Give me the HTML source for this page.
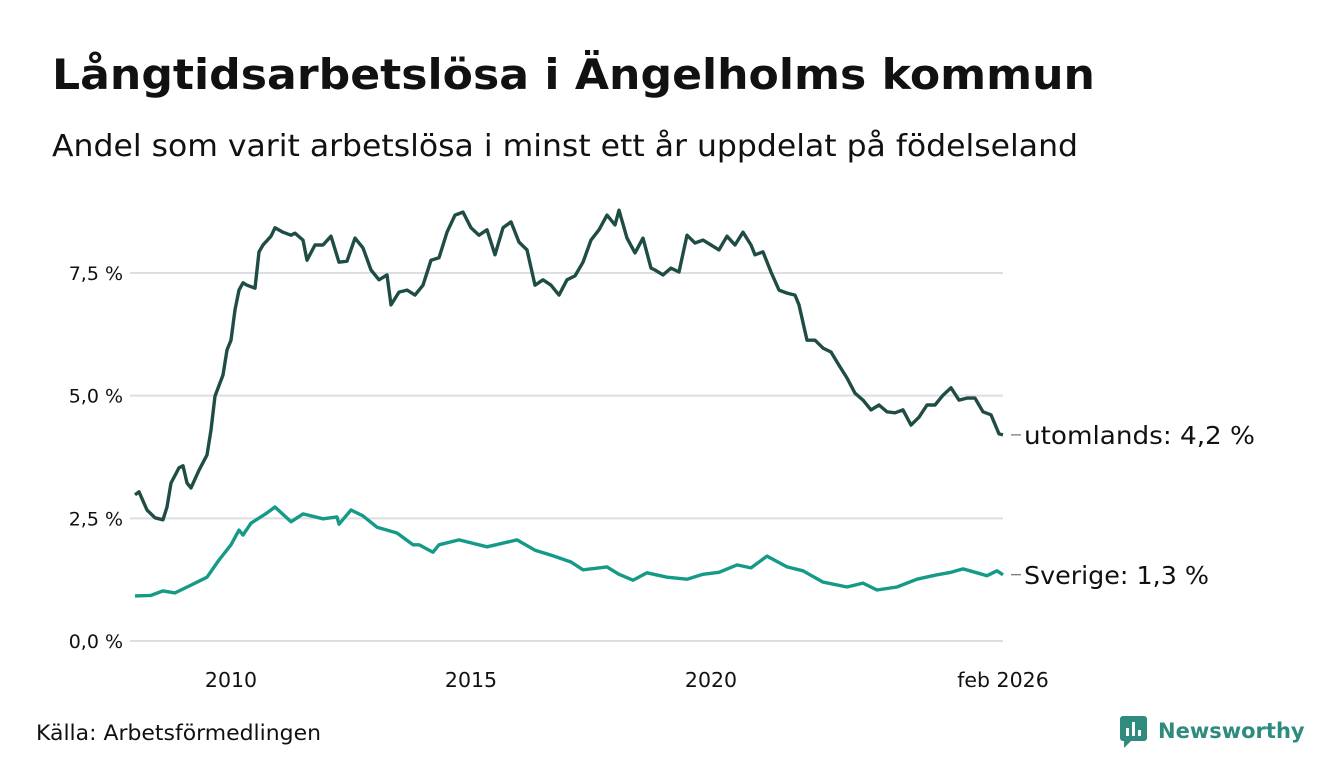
<!DOCTYPE html>
<html><head><meta charset="utf-8"><style>
body{margin:0;background:#fff;font-family:"DejaVu Sans","Liberation Sans",sans-serif;}
#wrap{position:relative;width:1340px;height:780px;overflow:hidden;background:#fff}
</style></head><body>
<div id="wrap">
<svg id="chart" width="1340" height="780" style="position:absolute;left:0;top:0" font-family="DejaVu Sans, Liberation Sans, sans-serif">
<text x="52" y="89" font-size="42" font-weight="bold" fill="#111" textLength="1043" lengthAdjust="spacingAndGlyphs">Långtidsarbetslösa i Ängelholms kommun</text>
<text x="52" y="156" font-size="30" fill="#111" textLength="1026" lengthAdjust="spacingAndGlyphs">Andel som varit arbetslösa i minst ett år uppdelat på födelseland</text>
<text x="36" y="740" font-size="21" fill="#111" textLength="285" lengthAdjust="spacingAndGlyphs">Källa: Arbetsförmedlingen</text>
<g>
<rect x="1120" y="716" width="27" height="25" rx="3" fill="#2e8b7e"/><path d="M1124 741 L1124 748 L1131 741Z" fill="#2e8b7e"/>
<rect x="1126" y="728" width="3" height="8" fill="#fff"/><rect x="1132" y="722" width="3" height="14" fill="#fff"/><rect x="1138" y="730" width="3" height="6" fill="#fff"/>
<text x="1158" y="738" font-size="21" font-weight="bold" fill="#2e8b7e">Newsworthy</text>
</g>
</svg>
</div>
<script>
const utMonths=[0,1,3,5,7,8,9,11,12,13,14,16,18,19,20,22,23,24,25,26,27,28,30,31,32,34,35,37,39,40,42,43,45,47,49,51,53,55,57,59,61,63,64,66,68,70,72,74,76,78,80,82,84,86,88,90,92,94,96,98,100,102,104,106,108,110,112,114,116,118,120,121,123,125,127,129,130,132,134,136,138,140,142,144,146,148,150,152,154,155,157,159,161,163,165,166,168,170,172,174,176,178,180,182,184,186,188,190,192,194,196,198,200,202,204,206,208,210,212,214,216,217];
const utValues=[2.98,3.04,2.67,2.51,2.47,2.73,3.22,3.53,3.57,3.22,3.12,3.48,3.79,4.30,4.99,5.42,5.93,6.13,6.75,7.15,7.30,7.25,7.19,7.93,8.07,8.25,8.42,8.33,8.27,8.31,8.17,7.76,8.07,8.07,8.25,7.72,7.74,8.21,8.01,7.56,7.36,7.46,6.85,7.11,7.15,7.05,7.25,7.76,7.81,8.33,8.68,8.74,8.42,8.27,8.38,7.87,8.42,8.54,8.13,7.97,7.25,7.36,7.25,7.05,7.36,7.44,7.72,8.17,8.38,8.68,8.48,8.78,8.21,7.91,8.21,7.60,7.56,7.46,7.60,7.52,8.27,8.11,8.17,8.07,7.97,8.25,8.07,8.33,8.07,7.87,7.93,7.52,7.15,7.09,7.05,6.85,6.13,6.13,5.97,5.89,5.62,5.36,5.05,4.91,4.71,4.81,4.67,4.65,4.71,4.40,4.56,4.81,4.81,5.01,5.16,4.91,4.95,4.95,4.67,4.61,4.22,4.20];
const svMonths=[0,4,7,10,14,18,21,24,26,27,29,33,35,39,42,47,50.5,51,54,57,60.5,65.5,69.5,71,74.5,76,81,88,95.5,100,104,109,112,118,121,124.5,128,133,138,142,146,150.5,154,158,163,167,172,178,182,185.5,190.5,195.5,200.5,204,207,210.5,213,215.5,217];
const svValues=[0.92,0.93,1.02,0.98,1.14,1.30,1.65,1.96,2.26,2.16,2.40,2.61,2.73,2.43,2.59,2.49,2.53,2.38,2.67,2.55,2.32,2.20,1.96,1.96,1.81,1.96,2.06,1.92,2.06,1.85,1.75,1.61,1.45,1.51,1.36,1.24,1.39,1.30,1.26,1.36,1.40,1.55,1.49,1.73,1.51,1.43,1.20,1.10,1.18,1.04,1.10,1.26,1.35,1.40,1.47,1.39,1.33,1.43,1.35];
const yTicks=[0,2.5,5,7.5];
const yTickLabels=["0,0 %","2,5 %","5,0 %","7,5 %"];
const xTicks=[2010,2015,2020,2026.083];
const xTickLabels=["2010","2015","2020","feb 2026"];
const ns="http://www.w3.org/2000/svg";
const svg=document.getElementById('chart');
const X=yr=>231+(yr-2010)*48;
const Xm=m=>X(2008+m/12);
const Y=v=>641-v*49.07;
function mk(t,a){const e=document.createElementNS(ns,t);for(const k in a)e.setAttribute(k,a[k]);svg.appendChild(e);return e;}
yTicks.forEach((v,i)=>{
 const g=mk('line',{x1:130,x2:1003,y1:Y(v),y2:Y(v),stroke:'#dddde3','stroke-width':2});
 
 
 const t=mk('text',{x:123,y:Y(v)+7,'text-anchor':'end','font-size':19,fill:'#111'});
 t.textContent=yTickLabels[i];
 
 
});
xTicks.forEach((v,i)=>{
 const t=mk('text',{x:X(v),y:687,'text-anchor':'middle','font-size':20.5,fill:'#111'});
 t.textContent=xTickLabels[i];
 
 
});
function line(ms,vs,col,name){
 const d=ms.map((m,i)=>(i?'L':'M')+Xm(m).toFixed(1)+' '+Y(vs[i]).toFixed(1)).join(' ');
 const p=mk('path',{d:d,fill:'none',stroke:col,'stroke-width':3.4,'stroke-linejoin':'round'});
 
 
}
line(utMonths,utValues,'#1f4d45','line-utomlands');
line(svMonths,svValues,'#159a88','line-sverige');
function label(ms,vs,txt,name,w){
 const y=Y(vs[vs.length-1]);const x=Xm(ms[ms.length-1]);
 const l=mk('line',{x1:x+8,x2:x+18,y1:y,y2:y,stroke:'#555','stroke-width':1});
 
 
 const t=mk('text',{x:x+21,y:y+9,'font-size':25,fill:'#111',textLength:w,lengthAdjust:'spacingAndGlyphs'});
 t.textContent=txt;
 
 
}
label(utMonths,utValues,'utomlands: 4,2 %','label-utomlands',231);
label(svMonths,svValues,'Sverige: 1,3 %','label-sverige',185);
</script>
</body></html>
